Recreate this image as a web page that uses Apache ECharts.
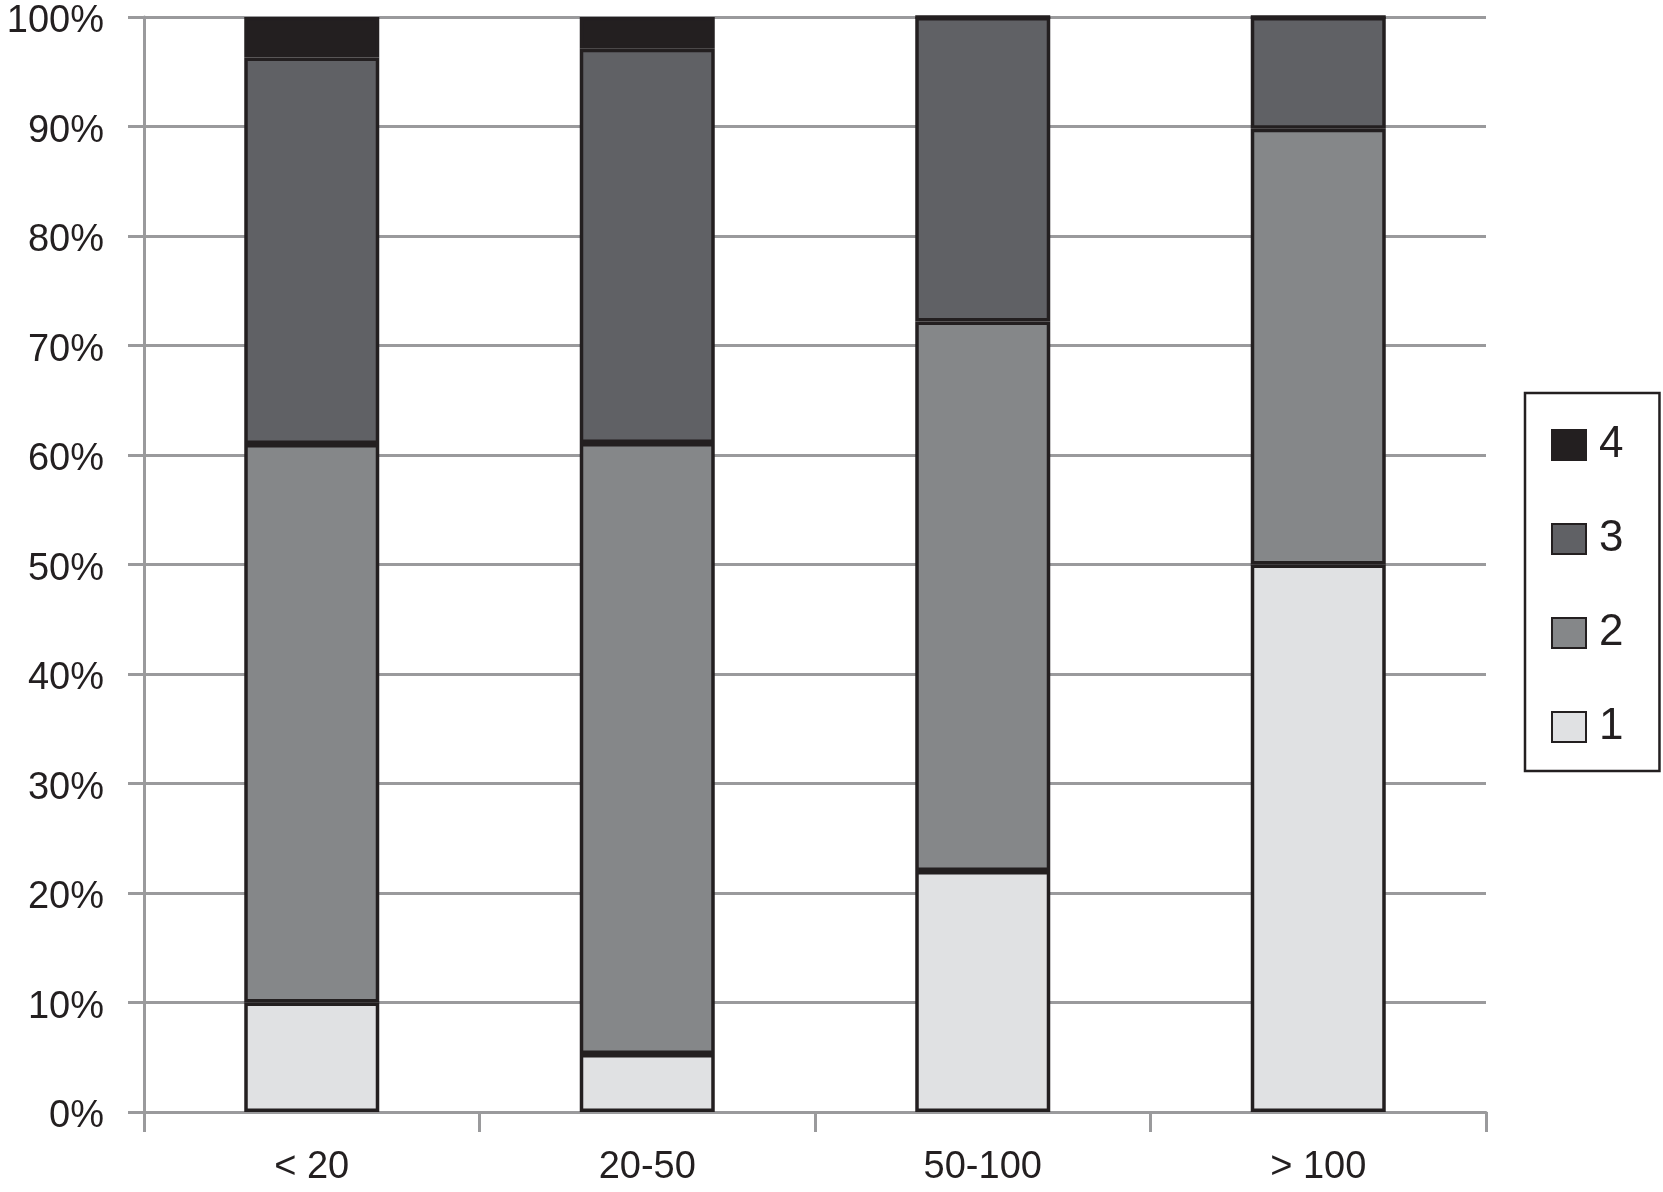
<!DOCTYPE html>
<html>
<head>
<meta charset="utf-8">
<script src="https://cdn.jsdelivr.net/npm/echarts@6/dist/echarts.min.js"></script>
<style>
  html, body { margin: 0; padding: 0; background: #fff; }
  #chart { width: 1663px; height: 1192px; }
</style>
</head>
<body>
<div id="chart"></div>
<script>
  // data (percent of each group)
  const categories = ['< 20', '20-50', '50-100', '> 100']
  const grade1 = [10, 5.3, 22, 50]
  const grade2 = [51, 55.8, 50.2, 39.8]
  const grade3 = [35.3, 36, 27.8, 10.2]
  const grade4 = [3.7, 2.9, 0, 0]
  const yTicks = [0, 10, 20, 30, 40, 50, 60, 70, 80, 90, 100]

  const font = 'Liberation Sans, Arial, Helvetica, sans-serif'
  const edge = '#231f20'

  function bar(name, data, color) {
    return {
      name: name,
      type: 'bar',
      stack: 'total',
      barWidth: 135,
      data: data,
      itemStyle: {
        color: color,
        borderColor: edge,
        borderWidth: 3.5
      }
    }
  }

  const option = {
    backgroundColor: '#fff',
    animation: false,
    grid: { left: 144, right: 177, top: 17, bottom: 80 },
    legend: {
      orient: 'vertical',
      left: 1525,
      top: 393,
      data: ['4', '3', '2', '1'],
      itemWidth: 34,
      itemHeight: 30,
      itemGap: 50,
      icon: 'rect',
      padding: [30, 36, 22, 26],
      borderColor: edge,
      borderWidth: 2.5,
      textStyle: { fontFamily: font, fontSize: 44, color: '#231f20', lineHeight: 30, padding: [0, 0, 0, 8] }
    },
    xAxis: {
      type: 'category',
      data: categories,
      axisLine: { lineStyle: { color: '#9a9a9c', width: 3 } },
      axisTick: { show: true, length: 20, lineStyle: { color: '#9a9a9c', width: 3 } },
      axisLabel: { fontFamily: font, fontSize: 38, color: '#231f20', margin: 37 }
    },
    yAxis: {
      type: 'value',
      min: yTicks[0],
      max: yTicks[yTicks.length - 1],
      interval: 10,
      axisLine: { show: true, lineStyle: { color: '#9a9a9c', width: 3 } },
      axisTick: { show: true, length: 16, lineStyle: { color: '#9a9a9c', width: 3 } },
      splitLine: { lineStyle: { color: '#9a9a9c', width: 3 } },
      axisLabel: {
        fontFamily: font, fontSize: 38, color: '#231f20', margin: 40,
        verticalAlign: 'top', lineHeight: 10, formatter: '{value}%'
      }
    },
    series: [
      bar('1', grade1, '#e0e1e3'),
      bar('2', grade2, '#858789'),
      bar('3', grade3, '#606165'),
      bar('4', grade4, '#231f20')
    ]
  }

  const chart = echarts.init(document.getElementById('chart'))
  chart.setOption(option)
</script>
</body>
</html>
